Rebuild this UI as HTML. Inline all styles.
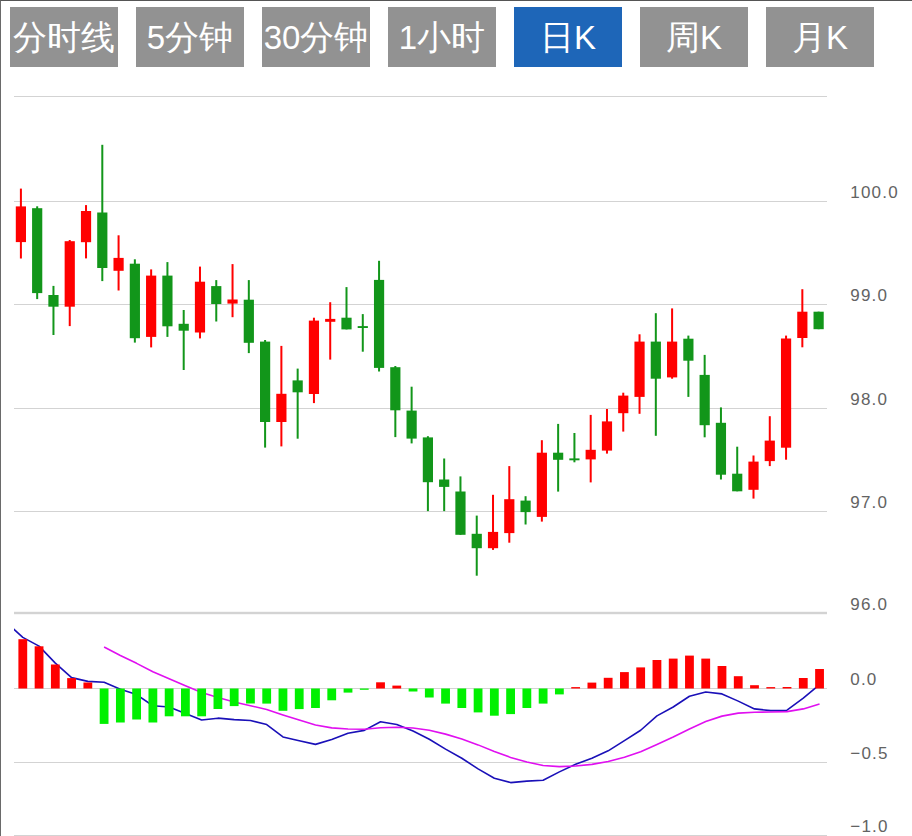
<!DOCTYPE html>
<html><head><meta charset="utf-8"><style>
html,body{margin:0;padding:0;background:#fff;}
body{width:912px;height:836px;position:relative;overflow:hidden;font-family:"Liberation Sans",sans-serif;}
.frame{position:absolute;left:0;top:0;width:912px;height:836px;border-top:1px solid #555;border-left:1px solid #6a6a6a;box-sizing:border-box;}
.btn{position:absolute;top:7px;width:108px;height:60px;background:#929292;color:#fff;font-size:33px;font-weight:500;line-height:60px;text-align:center;white-space:nowrap;}
.btn.on{background:#1e66b8;}
.c{font-size:34px;}
svg{position:absolute;left:0;top:0;}
svg text{font-family:"Liberation Sans",sans-serif;font-size:17px;fill:#636363;letter-spacing:1.2px;}
</style></head><body>
<div class="frame"></div>
<div class="btn" style="left:10px"><span class="c">分</span><span class="c">时</span><span class="c">线</span></div><div class="btn" style="left:136px">5<span class="c">分</span><span class="c">钟</span></div><div class="btn" style="left:262px">30<span class="c">分</span><span class="c">钟</span></div><div class="btn" style="left:388px">1<span class="c">小</span><span class="c">时</span></div><div class="btn on" style="left:514px"><span class="c">日</span>K</div><div class="btn" style="left:640px"><span class="c">周</span>K</div><div class="btn" style="left:766px"><span class="c">月</span>K</div>
<svg width="912" height="836" viewBox="0 0 912 836">
<defs><clipPath id="cl"><rect x="14" y="614" width="813" height="222"/></clipPath></defs>
<rect x="14" y="96.0" width="813" height="1" fill="#d3d3d3"/>
<rect x="14" y="201.0" width="813" height="1" fill="#d3d3d3"/>
<rect x="14" y="304.0" width="813" height="1" fill="#d3d3d3"/>
<rect x="14" y="408.0" width="813" height="1" fill="#d3d3d3"/>
<rect x="14" y="511.0" width="813" height="1" fill="#d3d3d3"/>
<rect x="14" y="611.8" width="813" height="2.4" fill="#d3d3d3"/>
<rect x="14" y="688.0" width="813" height="1" fill="#d3d3d3"/>
<rect x="14" y="762.0" width="813" height="1" fill="#d3d3d3"/>
<rect x="14" y="835.0" width="813" height="1" fill="#d3d3d3"/>
<rect x="19.90" y="188.60" width="2" height="69.90" fill="#ff0000"/>
<rect x="15.80" y="206.40" width="10.2" height="35.70" fill="#ff0000"/>
<rect x="36.18" y="206.30" width="2" height="92.80" fill="#12961a"/>
<rect x="32.08" y="208.20" width="10.2" height="84.90" fill="#12961a"/>
<rect x="52.46" y="285.90" width="2" height="49.10" fill="#12961a"/>
<rect x="48.36" y="295.00" width="10.2" height="11.70" fill="#12961a"/>
<rect x="68.74" y="240.00" width="2" height="86.10" fill="#ff0000"/>
<rect x="64.64" y="241.20" width="10.2" height="65.50" fill="#ff0000"/>
<rect x="85.02" y="205.10" width="2" height="53.30" fill="#ff0000"/>
<rect x="80.92" y="211.00" width="10.2" height="31.20" fill="#ff0000"/>
<rect x="101.30" y="144.80" width="2" height="136.30" fill="#12961a"/>
<rect x="97.20" y="212.50" width="10.2" height="55.50" fill="#12961a"/>
<rect x="117.58" y="235.30" width="2" height="55.20" fill="#ff0000"/>
<rect x="113.48" y="257.90" width="10.2" height="12.90" fill="#ff0000"/>
<rect x="133.86" y="259.30" width="2" height="83.30" fill="#12961a"/>
<rect x="129.76" y="263.70" width="10.2" height="74.50" fill="#12961a"/>
<rect x="150.14" y="269.40" width="2" height="78.00" fill="#ff0000"/>
<rect x="146.04" y="275.60" width="10.2" height="61.30" fill="#ff0000"/>
<rect x="166.42" y="262.10" width="2" height="74.80" fill="#12961a"/>
<rect x="162.32" y="275.60" width="10.2" height="50.70" fill="#12961a"/>
<rect x="182.70" y="310.00" width="2" height="60.00" fill="#12961a"/>
<rect x="178.60" y="323.80" width="10.2" height="6.90" fill="#12961a"/>
<rect x="198.98" y="266.60" width="2" height="71.80" fill="#ff0000"/>
<rect x="194.88" y="281.70" width="10.2" height="50.80" fill="#ff0000"/>
<rect x="215.26" y="280.10" width="2" height="41.40" fill="#12961a"/>
<rect x="211.16" y="286.10" width="10.2" height="17.90" fill="#12961a"/>
<rect x="231.54" y="264.10" width="2" height="53.10" fill="#ff0000"/>
<rect x="227.44" y="299.50" width="10.2" height="4.10" fill="#ff0000"/>
<rect x="247.82" y="280.10" width="2" height="73.00" fill="#12961a"/>
<rect x="243.72" y="299.70" width="10.2" height="43.10" fill="#12961a"/>
<rect x="264.10" y="340.00" width="2" height="107.60" fill="#12961a"/>
<rect x="260.00" y="341.60" width="10.2" height="80.40" fill="#12961a"/>
<rect x="280.38" y="345.90" width="2" height="100.50" fill="#ff0000"/>
<rect x="276.28" y="393.80" width="10.2" height="28.20" fill="#ff0000"/>
<rect x="296.66" y="368.60" width="2" height="70.10" fill="#12961a"/>
<rect x="292.56" y="380.40" width="10.2" height="11.90" fill="#12961a"/>
<rect x="312.94" y="317.70" width="2" height="85.40" fill="#ff0000"/>
<rect x="308.84" y="320.60" width="10.2" height="73.40" fill="#ff0000"/>
<rect x="329.22" y="302.20" width="2" height="57.40" fill="#ff0000"/>
<rect x="325.12" y="318.90" width="10.2" height="2.90" fill="#ff0000"/>
<rect x="345.50" y="287.10" width="2" height="42.30" fill="#12961a"/>
<rect x="341.40" y="317.70" width="10.2" height="11.70" fill="#12961a"/>
<rect x="361.78" y="314.10" width="2" height="37.60" fill="#12961a"/>
<rect x="357.68" y="326.10" width="10.2" height="1.90" fill="#12961a"/>
<rect x="378.06" y="260.80" width="2" height="110.70" fill="#12961a"/>
<rect x="373.96" y="279.90" width="10.2" height="88.00" fill="#12961a"/>
<rect x="394.34" y="366.00" width="2" height="71.10" fill="#12961a"/>
<rect x="390.24" y="367.20" width="10.2" height="43.10" fill="#12961a"/>
<rect x="410.62" y="386.70" width="2" height="56.70" fill="#12961a"/>
<rect x="406.52" y="410.60" width="10.2" height="28.00" fill="#12961a"/>
<rect x="426.90" y="436.20" width="2" height="74.90" fill="#12961a"/>
<rect x="422.80" y="437.40" width="10.2" height="44.80" fill="#12961a"/>
<rect x="443.18" y="458.50" width="2" height="52.60" fill="#12961a"/>
<rect x="439.08" y="479.50" width="10.2" height="7.40" fill="#12961a"/>
<rect x="459.46" y="476.40" width="2" height="58.40" fill="#12961a"/>
<rect x="455.36" y="491.50" width="10.2" height="43.30" fill="#12961a"/>
<rect x="475.74" y="515.60" width="2" height="60.10" fill="#12961a"/>
<rect x="471.64" y="533.80" width="10.2" height="14.40" fill="#12961a"/>
<rect x="492.02" y="494.80" width="2" height="55.10" fill="#ff0000"/>
<rect x="487.92" y="531.90" width="10.2" height="16.30" fill="#ff0000"/>
<rect x="508.30" y="466.10" width="2" height="76.60" fill="#ff0000"/>
<rect x="504.20" y="499.20" width="10.2" height="33.90" fill="#ff0000"/>
<rect x="524.58" y="496.20" width="2" height="28.30" fill="#12961a"/>
<rect x="520.48" y="500.60" width="10.2" height="11.50" fill="#12961a"/>
<rect x="540.86" y="440.20" width="2" height="81.40" fill="#ff0000"/>
<rect x="536.76" y="452.70" width="10.2" height="64.20" fill="#ff0000"/>
<rect x="557.14" y="423.90" width="2" height="67.70" fill="#12961a"/>
<rect x="553.04" y="452.70" width="10.2" height="7.10" fill="#12961a"/>
<rect x="573.42" y="433.00" width="2" height="29.30" fill="#12961a"/>
<rect x="569.32" y="458.40" width="10.2" height="1.90" fill="#12961a"/>
<rect x="589.70" y="414.90" width="2" height="67.50" fill="#ff0000"/>
<rect x="585.60" y="449.80" width="10.2" height="9.60" fill="#ff0000"/>
<rect x="605.98" y="409.00" width="2" height="44.60" fill="#ff0000"/>
<rect x="601.88" y="421.40" width="10.2" height="29.20" fill="#ff0000"/>
<rect x="622.26" y="392.70" width="2" height="38.90" fill="#ff0000"/>
<rect x="618.16" y="395.60" width="10.2" height="17.60" fill="#ff0000"/>
<rect x="638.54" y="334.30" width="2" height="79.50" fill="#ff0000"/>
<rect x="634.44" y="341.60" width="10.2" height="55.30" fill="#ff0000"/>
<rect x="654.82" y="313.20" width="2" height="122.60" fill="#12961a"/>
<rect x="650.72" y="341.60" width="10.2" height="37.10" fill="#12961a"/>
<rect x="671.10" y="308.40" width="2" height="70.30" fill="#ff0000"/>
<rect x="667.00" y="341.60" width="10.2" height="35.80" fill="#ff0000"/>
<rect x="687.38" y="335.60" width="2" height="61.30" fill="#12961a"/>
<rect x="683.28" y="338.70" width="10.2" height="22.00" fill="#12961a"/>
<rect x="703.66" y="354.90" width="2" height="82.40" fill="#12961a"/>
<rect x="699.56" y="374.90" width="10.2" height="50.30" fill="#12961a"/>
<rect x="719.94" y="407.40" width="2" height="72.10" fill="#12961a"/>
<rect x="715.84" y="422.80" width="10.2" height="51.90" fill="#12961a"/>
<rect x="736.22" y="446.70" width="2" height="44.60" fill="#12961a"/>
<rect x="732.12" y="473.70" width="10.2" height="17.60" fill="#12961a"/>
<rect x="752.50" y="455.50" width="2" height="43.10" fill="#ff0000"/>
<rect x="748.40" y="461.60" width="10.2" height="28.20" fill="#ff0000"/>
<rect x="768.78" y="416.20" width="2" height="49.90" fill="#ff0000"/>
<rect x="764.68" y="440.60" width="10.2" height="20.50" fill="#ff0000"/>
<rect x="785.06" y="335.60" width="2" height="124.10" fill="#ff0000"/>
<rect x="780.96" y="338.50" width="10.2" height="109.20" fill="#ff0000"/>
<rect x="801.34" y="289.20" width="2" height="58.10" fill="#ff0000"/>
<rect x="797.24" y="311.70" width="10.2" height="26.30" fill="#ff0000"/>
<rect x="817.62" y="311.70" width="2" height="17.50" fill="#12961a"/>
<rect x="813.52" y="311.70" width="10.2" height="17.50" fill="#12961a"/>
<g clip-path="url(#cl)">
<polyline points="6.54,622.50 22.80,637.36 39.06,646.08 55.32,663.09 71.58,677.64 87.84,681.40 104.10,682.29 120.36,689.27 136.62,694.61 152.88,705.73 169.14,706.98 185.40,713.58 201.66,720.03 217.92,718.17 234.18,719.58 250.44,720.49 266.70,724.51 282.96,736.99 299.22,740.67 315.48,744.39 331.74,739.53 348.00,733.29 364.26,730.35 380.52,721.68 396.78,724.54 413.04,731.06 429.30,739.22 445.56,749.16 461.82,758.29 478.08,768.87 494.34,778.27 510.60,782.58 526.86,781.14 543.12,780.25 559.38,771.88 575.64,764.29 591.90,758.18 608.16,750.83 624.42,740.65 640.68,730.25 656.94,715.84 673.20,706.97 689.46,696.24 705.72,691.99 721.98,693.91 738.24,701.13 754.50,708.91 770.76,710.59 787.02,710.22 803.28,698.19 819.54,684.52" fill="none" stroke="#1a10b8" stroke-width="1.6" stroke-linejoin="round"/>
<polyline points="104.10,647.03 120.36,655.49 136.62,663.34 152.88,671.80 169.14,678.82 185.40,685.70 201.66,692.48 217.92,697.59 234.18,701.96 250.44,705.66 266.70,709.43 282.96,714.92 299.22,720.06 315.48,724.92 331.74,727.84 348.00,728.95 364.26,729.24 380.52,727.77 396.78,727.18 413.04,728.01 429.30,730.30 445.56,734.11 461.82,738.94 478.08,744.88 494.34,751.40 510.60,757.45 526.86,762.03 543.12,765.51 559.38,766.63 575.64,766.04 591.90,764.37 608.16,761.58 624.42,757.28 640.68,751.78 656.94,744.55 673.20,737.03 689.46,728.93 705.72,721.60 721.98,716.12 738.24,713.16 754.50,712.30 770.76,711.96 787.02,711.61 803.28,708.91 819.54,704.04" fill="none" stroke="#e010f0" stroke-width="1.6" stroke-linejoin="round"/>
</g>
<rect x="18.40" y="639.20" width="8.8" height="49.30" fill="#ff0000"/>
<rect x="34.66" y="646.30" width="8.8" height="42.20" fill="#ff0000"/>
<rect x="50.92" y="664.50" width="8.8" height="24.00" fill="#ff0000"/>
<rect x="67.18" y="678.10" width="8.8" height="10.40" fill="#ff0000"/>
<rect x="83.44" y="682.50" width="8.8" height="6.00" fill="#ff0000"/>
<rect x="99.70" y="688.50" width="8.8" height="35.40" fill="#00f000"/>
<rect x="115.96" y="688.50" width="8.8" height="34.00" fill="#00f000"/>
<rect x="132.22" y="688.50" width="8.8" height="31.00" fill="#00f000"/>
<rect x="148.48" y="688.50" width="8.8" height="34.00" fill="#00f000"/>
<rect x="164.74" y="688.50" width="8.8" height="27.80" fill="#00f000"/>
<rect x="181.00" y="688.50" width="8.8" height="27.80" fill="#00f000"/>
<rect x="197.26" y="688.50" width="8.8" height="27.80" fill="#00f000"/>
<rect x="213.52" y="688.50" width="8.8" height="20.50" fill="#00f000"/>
<rect x="229.78" y="688.50" width="8.8" height="17.60" fill="#00f000"/>
<rect x="246.04" y="688.50" width="8.8" height="15.00" fill="#00f000"/>
<rect x="262.30" y="688.50" width="8.8" height="15.10" fill="#00f000"/>
<rect x="278.56" y="688.50" width="8.8" height="22.30" fill="#00f000"/>
<rect x="294.82" y="688.50" width="8.8" height="20.60" fill="#00f000"/>
<rect x="311.08" y="688.50" width="8.8" height="19.50" fill="#00f000"/>
<rect x="327.34" y="688.50" width="8.8" height="11.80" fill="#00f000"/>
<rect x="343.60" y="688.50" width="8.8" height="4.10" fill="#00f000"/>
<rect x="359.86" y="688.50" width="8.8" height="1.30" fill="#00f000"/>
<rect x="376.12" y="682.30" width="8.8" height="6.20" fill="#ff0000"/>
<rect x="392.38" y="685.60" width="8.8" height="2.90" fill="#ff0000"/>
<rect x="408.64" y="688.50" width="8.8" height="3.00" fill="#00f000"/>
<rect x="424.90" y="688.50" width="8.8" height="9.00" fill="#00f000"/>
<rect x="441.16" y="688.50" width="8.8" height="15.10" fill="#00f000"/>
<rect x="457.42" y="688.50" width="8.8" height="19.50" fill="#00f000"/>
<rect x="473.68" y="688.50" width="8.8" height="23.90" fill="#00f000"/>
<rect x="489.94" y="688.50" width="8.8" height="27.20" fill="#00f000"/>
<rect x="506.20" y="688.50" width="8.8" height="25.60" fill="#00f000"/>
<rect x="522.46" y="688.50" width="8.8" height="19.50" fill="#00f000"/>
<rect x="538.72" y="688.50" width="8.8" height="15.10" fill="#00f000"/>
<rect x="554.98" y="688.50" width="8.8" height="5.90" fill="#00f000"/>
<rect x="571.24" y="687.10" width="8.8" height="1.40" fill="#ff0000"/>
<rect x="587.50" y="682.60" width="8.8" height="5.90" fill="#ff0000"/>
<rect x="603.76" y="677.80" width="8.8" height="10.70" fill="#ff0000"/>
<rect x="620.02" y="672.10" width="8.8" height="16.40" fill="#ff0000"/>
<rect x="636.28" y="667.40" width="8.8" height="21.10" fill="#ff0000"/>
<rect x="652.54" y="660.00" width="8.8" height="28.50" fill="#ff0000"/>
<rect x="668.80" y="658.60" width="8.8" height="29.90" fill="#ff0000"/>
<rect x="685.06" y="655.60" width="8.8" height="32.90" fill="#ff0000"/>
<rect x="701.32" y="658.60" width="8.8" height="29.90" fill="#ff0000"/>
<rect x="717.58" y="666.00" width="8.8" height="22.50" fill="#ff0000"/>
<rect x="733.84" y="676.20" width="8.8" height="12.30" fill="#ff0000"/>
<rect x="750.10" y="685.20" width="8.8" height="3.30" fill="#ff0000"/>
<rect x="766.36" y="687.10" width="8.8" height="1.40" fill="#ff0000"/>
<rect x="782.62" y="687.00" width="8.8" height="1.50" fill="#ff0000"/>
<rect x="798.88" y="678.00" width="8.8" height="10.50" fill="#ff0000"/>
<rect x="815.14" y="669.00" width="8.8" height="19.50" fill="#ff0000"/>
<text x="850.3" y="197.8">100.0</text>
<text x="850.3" y="300.8">99.0</text>
<text x="850.3" y="404.8">98.0</text>
<text x="850.3" y="508.0">97.0</text>
<text x="850.3" y="609.8">96.0</text>
<text x="850.3" y="685.1">0.0</text>
<text x="850.3" y="758.8">−0.5</text>
<text x="850.3" y="831.6">−1.0</text>
</svg>
</body></html>
